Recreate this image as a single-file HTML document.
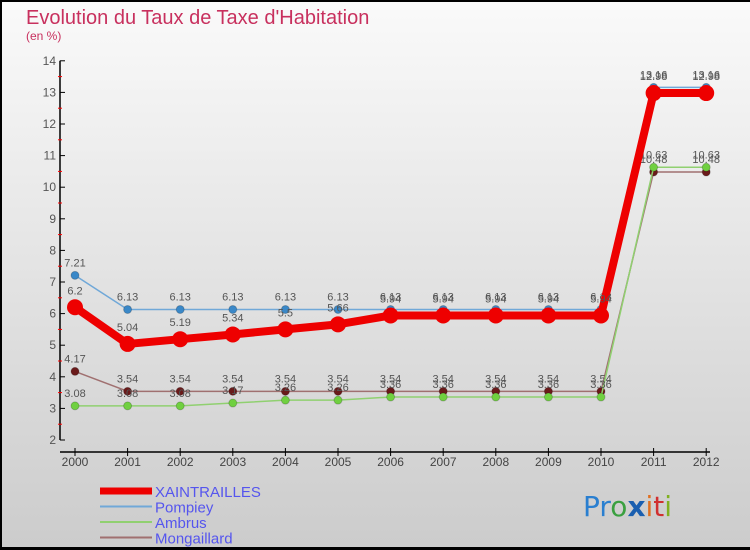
<!DOCTYPE html>
<html><head><meta charset="utf-8"><style>
html,body{margin:0;padding:0}
body{width:750px;height:550px;overflow:hidden;font-family:"Liberation Sans",sans-serif}
#wrap{position:relative;width:750px;height:550px;background:linear-gradient(#fafafa,#cccccc);box-sizing:border-box;border-left:2px solid #000;border-top:2px solid #000;border-bottom:3px solid #000}
</style></head><body>
<div id="wrap">
<svg id="chart" width="750" height="550" style="position:absolute;left:-2px;top:-2px">
<text x="26" y="24" font-size="20" fill="#c8305e">Evolution du Taux de Taxe d'Habitation</text>
<text x="26" y="40" font-size="12" fill="#c8305e">(en %)</text>
<g id="axes"></g><g id="series"></g><g id="legend"></g>
<text x="583" y="516" font-size="28" font-family="'DejaVu Sans',sans-serif"><tspan fill="#2a7fd0">Pr</tspan><tspan fill="#3aa040">o</tspan><tspan fill="#1a5fb0" font-weight="bold">x</tspan><tspan fill="#e07020">i</tspan><tspan fill="#d03030">t</tspan><tspan fill="#80b020">i</tspan></text>
</svg>
</div>
<script>
const years=[2000,2001,2002,2003,2004,2005,2006,2007,2008,2009,2010,2011,2012];
const yTicks=[2,3,4,5,6,7,8,9,10,11,12,13,14];
const seriesNames=["XAINTRAILLES","Pompiey","Ambrus","Mongaillard"];
const xaintrailles=[6.2,5.04,5.19,5.34,5.5,5.66,5.94,5.94,5.94,5.94,5.94,12.98,12.98];
const pompiey=[7.21,6.13,6.13,6.13,6.13,6.13,6.13,6.13,6.13,6.13,6.13,13.16,13.16];
const ambrus=[3.08,3.08,3.08,3.17,3.26,3.26,3.36,3.36,3.36,3.36,3.36,10.63,10.63];
const mongaillard=[4.17,3.54,3.54,3.54,3.54,3.54,3.54,3.54,3.54,3.54,3.54,10.48,10.48];
const NS="http://www.w3.org/2000/svg";
const X=i=>75+i*52.6;
const Y=v=>440-(v-2)*31.6;
function mk(tag,attrs,parent){const e=document.createElementNS(NS,tag);for(const k in attrs)e.setAttribute(k,attrs[k]);parent.appendChild(e);return e;}
const axes=document.getElementById('axes');
let a=mk('line',{x1:60,y1:Y(14),x2:60,y2:Y(2),stroke:'#000','stroke-width':1.5},axes);


a=mk('line',{x1:60,y1:452,x2:710,y2:452,stroke:'#000','stroke-width':1.5},axes);


yTicks.forEach((t,i)=>{
  mk('line',{x1:60,y1:Y(t),x2:65,y2:Y(t),stroke:'#000'},axes);
  if(i<yTicks.length-1)mk('line',{x1:58,y1:Y(t+0.5),x2:62,y2:Y(t+0.5),stroke:'#f00'},axes);
  const tx=mk('text',{x:56,y:Y(t)+4,'font-size':12,fill:'#555','text-anchor':'end'},axes);
  tx.textContent=t;
  
  
});
years.forEach((yr,i)=>{
  mk('line',{x1:X(i),y1:448,x2:X(i),y2:456,stroke:'#000'},axes);
  const tx=mk('text',{x:X(i),y:466,'font-size':12,fill:'#444','text-anchor':'middle'},axes);
  tx.textContent=yr;
  
  
});
const sg=document.getElementById('series');
const defs=[
 {d:mongaillard,c:'#a07070',dot:'#6a1a1a',w:1.5,r:4,n:'mongaillard'},
 {d:ambrus,c:'#90d070',dot:'#70d040',w:1.5,r:4,n:'ambrus'},
 {d:pompiey,c:'#70a8d8',dot:'#3a88c8',w:1.5,r:4,n:'pompiey'},
 {d:xaintrailles,c:'#ee0000',dot:'#ee0000',w:8,r:8,n:'xaintrailles'}];
defs.forEach(s=>{
  const g=mk('g',{},sg);
  
  
  const l=mk('polyline',{points:s.d.map((v,i)=>X(i)+','+Y(v)).join(' '),fill:'none',stroke:s.c,'stroke-width':s.w,'stroke-linejoin':'round'},g);
  
  
  s.d.forEach((v,i)=>{
    const p=mk('circle',{cx:X(i),cy:Y(v),r:s.r,fill:s.dot,stroke:s.n==='xaintrailles'?'none':'#0003'},g);
    
    
    const t=mk('text',{x:X(i),y:Y(v)-(s.n==='xaintrailles'?13:9),'font-size':11,fill:'#555','text-anchor':'middle'},g);
    t.textContent=v;
    
    
  });
});
const lg=document.getElementById('legend');
const lc=['#ee0000','#70a8d8','#90d070','#a07070'],lw=[7,2,2,2];
seriesNames.forEach((n,i)=>{
  const y=491+i*15.5;
  const g=mk('g',{},lg);
  
  
  mk('line',{x1:100,y1:y,x2:152,y2:y,stroke:lc[i],'stroke-width':lw[i]},g);
  const t=mk('text',{x:155,y:y+6,'font-size':15,fill:'#5555ee'},g);
  t.textContent=n;
});
</script>
</body></html>
